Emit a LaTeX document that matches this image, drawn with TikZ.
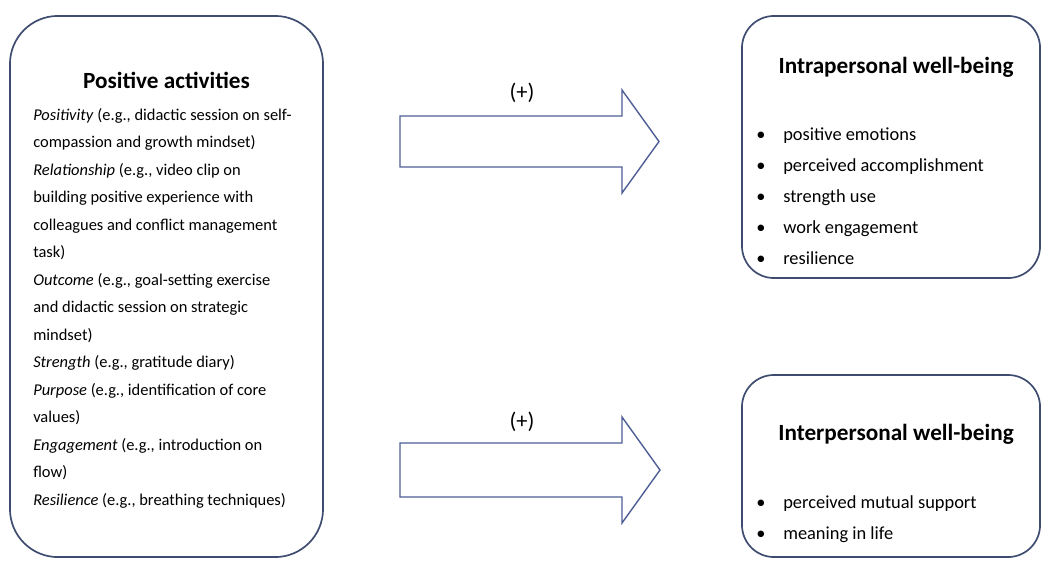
\documentclass[tikz,border=0pt]{standalone}
\usepackage{fontspec}
\setmainfont{Carlito}
\definecolor{boxline}{RGB}{62,76,112}
\definecolor{arrowline}{RGB}{78,94,150}
\tikzset{
  panel/.style={draw=boxline, line width=1.2pt, fill=white},
  headtext/.style={font=\fontsize{16.5}{20}\selectfont\bfseries},
  listtext/.style={anchor=north west, align=left},
  blockarrow/.style={draw=arrowline, line width=1pt, line join=miter},
  signlabel/.style={font=\fontsize{16}{18}\selectfont},
}
\newcommand{\itembullet}[1]{\makebox[19.2pt][l]{\textbullet}#1}

\begin{document}
\begin{tikzpicture}[x=0.025cm,y=-0.025cm,inner sep=0pt]
  \useasboundingbox (0,0) rectangle (1043,560);

  % activities panel
  \node[panel, rounded corners=1.2cm, minimum width=7.825cm, minimum height=13.525cm] (acts) at (166.5,286.5) {};
  \node[headtext] (actsTitle) at (166.5,80) {Positive activities};
  \node[listtext, font=\fontsize{11.7}{19.56}\selectfont] (actsList) at (33,108) {%
    \textit{Positivity} (e.g., didactic session on self-\\
    compassion and growth mindset)\\
    \textit{Relationship} (e.g., video clip on\\
    building positive experience with\\
    colleagues and conflict management\\
    task)\\
    \textit{Outcome} (e.g., goal-setting exercise\\
    and didactic session on strategic\\
    mindset)\\
    \textit{Strength} (e.g., gratitude diary)\\
    \textit{Purpose} (e.g., identification of core\\
    values)\\
    \textit{Engagement} (e.g., introduction on\\
    flow)\\
    \textit{Resilience} (e.g., breathing techniques)};

  % well-being panels
  \node[panel, rounded corners=0.8cm, minimum width=7.45cm, minimum height=6.55cm] (intra) at (891,147) {};
  \node[headtext] (intraTitle) at (896,67) {Intrapersonal well-being};
  \node[listtext, font=\fontsize{13.1}{22.05}\selectfont] (intraList) at (756,127) {%
    \itembullet{positive emotions}\\
    \itembullet{perceived accomplishment}\\
    \itembullet{strength use}\\
    \itembullet{work engagement}\\
    \itembullet{resilience}};

  \node[panel, rounded corners=0.8cm, minimum width=7.45cm, minimum height=4.55cm] (inter) at (891,466) {};
  \node[headtext] (interTitle) at (896,434) {Interpersonal well-being};
  \node[listtext, font=\fontsize{13.1}{22.05}\selectfont] (interList) at (756,495) {%
    \itembullet{perceived mutual support}\\
    \itembullet{meaning in life}};

  % block arrows with their signs
  \draw[blockarrow] (400,116) -- (622,116) -- (622,90) -- (659,141.5) -- (622,193) -- (622,167) -- (400,167) -- cycle;
  \node[signlabel] (signA) at (522,93) {(+)};

  \draw[blockarrow] (400,443) -- (622,443) -- (622,417) -- (660,470) -- (622,523) -- (622,497) -- (400,497) -- cycle;
  \node[signlabel] (signB) at (522,422) {(+)};
\end{tikzpicture}
\end{document}
